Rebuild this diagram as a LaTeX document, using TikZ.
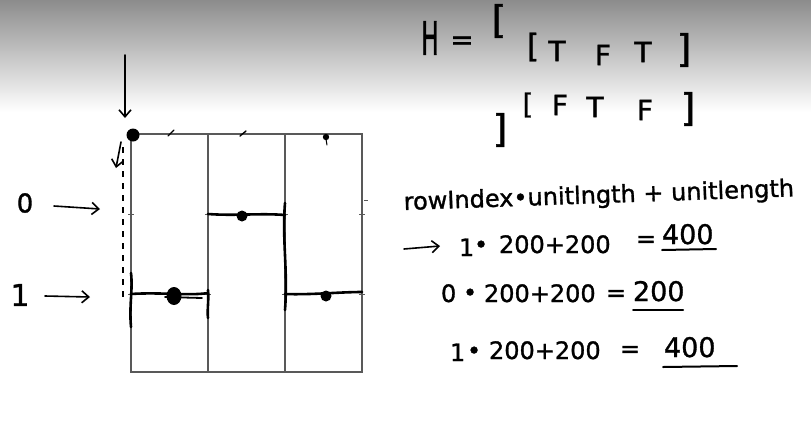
\documentclass[tikz,border=0pt]{standalone}
\usepackage{fontspec}
\setmainfont{DejaVu Sans}[FakeBold=1.2]
\newfontfamily\handfont{DejaVu Sans}[FakeBold=1.2]
\usetikzlibrary{arrows.meta}
\begin{document}
\begin{tikzpicture}[x=1pt,y=-1pt,
  gridline/.style={draw=black!65,line width=1.1pt},
  gridtick/.style={draw=black!65,line width=0.8pt},
  pen/.style={draw=black,line width=2.6pt,line cap=round,line join=round},
  penarrow/.style={draw=black,line width=1.6pt,line cap=round,-{Straight Barb[length=7pt,width=12pt,line width=1.6pt]}},
  hand/.style={inner sep=0pt,outer sep=0pt,anchor=base west,font=\handfont\fontsize{24}{24}\selectfont},
  result/.style={hand,font=\handfont\fontsize{27}{27}\selectfont},
  letter/.style={inner sep=0pt,outer sep=0pt,anchor=center,font=\handfont\fontsize{28}{28}\selectfont},
  bracket/.style={inner sep=0pt,outer sep=0pt,anchor=center,font=\handfont\fontsize{38}{38}\selectfont},
  underl/.style={draw=black,line width=2pt,line cap=round}]
\useasboundingbox (0,0) rectangle (811,429);
\shade[top color=black!45,bottom color=white] (0,0) rectangle (811,112);

% grid
\draw[gridline] (131,134) rectangle (362,372);
\draw[gridline] (208,134) -- (208,372);
\draw[gridline] (285,134) -- (285,372);
\foreach \xx in {131,208,285,362}{
  \draw[gridtick] (\xx-3,214) -- (\xx+3,214);
  \draw[gridtick] (\xx-3,294) -- (\xx+3,294);}
\draw[gridtick] (364,200) -- (368,200);
\draw[pen,line width=1.4pt] (168,136) -- (174,130);
\draw[pen,line width=1.4pt] (240,136) -- (246,131);

% step lines
\draw[pen] (131,294) .. controls (160,292) and (190,296) .. (208,293);
\draw[pen,line width=1.8pt] (165,297) -- (202,298);
\draw[pen] (131,273) .. controls (133,290) and (129,305) .. (131,327);
\draw[pen] (208,290) .. controls (209,300) and (207,310) .. (208,318);
\draw[pen] (208,214) .. controls (235,216) and (260,213) .. (285,215);
\draw[pen] (285,203) .. controls (282,240) and (288,270) .. (285,310);
\draw[pen] (285,294) .. controls (310,295) and (340,292) .. (362,292);

% dots
\fill (133,135) circle (6.5);
\fill (174,296) ellipse (7.5 and 9);
\fill (242,216) circle (5.5);
\fill (326,296) circle (5.5);
\fill (326,137) circle (3.2);
\draw[pen,line width=1pt] (326,139) -- (327,145);

% dashed guide
\draw[black,line width=1.3pt,dash pattern=on 6pt off 6pt] (123,147) -- (123,300);

% arrows at the top left
\coordinate (topS) at (125,55);
\coordinate (topE) at (125,118);
\draw[penarrow] (topS) -- (topE);
\coordinate (smS) at (121,142);
\coordinate (smE) at (116,168);
\draw[penarrow] (smS) -- (smE);

% row labels
\node[inner sep=0pt,font=\handfont\fontsize{26}{26}\selectfont] (l0) at (25,203) {0};
\node[inner sep=0pt,font=\handfont\fontsize{30}{30}\selectfont] (l1) at (20,295) {1};
\coordinate (l0s) at (54,206);
\coordinate (l0e) at (100,209);
\coordinate (l1s) at (45,296);
\coordinate (l1e) at (90,297);
\draw[penarrow] (l0s) -- (l0e);
\draw[penarrow] (l1s) -- (l1e);

% H matrix
\node[inner sep=0pt,anchor=center,xscale=0.5,font=\handfont\fontsize{46}{46}\selectfont] (H) at (430,38) {H};
\node[letter] (eq) at (462,43) {=};
\node[bracket] (ob) at (499,21) {[};
\node[bracket,font=\handfont\fontsize{32}{32}\selectfont] (r1o) at (533,47) {[};
\node[letter] (r1a) at (557,51) {T};
\node[letter] (r1b) at (603,55) {F};
\node[letter] (r1c) at (643,52) {T};
\node[bracket] (r1e) at (684,50) {]};
\node[bracket] (cb) at (500,130) {]};
\node[bracket,font=\handfont\fontsize{28}{28}\selectfont] (r2o) at (528,105) {[};
\node[letter] (r2a) at (560,105) {F};
\node[letter] (r2b) at (595,107) {T};
\node[letter] (r2c) at (645,110) {F};
\node[bracket] (r2e) at (688,109) {]};

% formula
\node[hand,rotate=2] (f1) at (404,210) {rowIndex•unitlngth + unitlength};

\coordinate (f2s) at (404,249);
\coordinate (f2e) at (440,246);
\draw[penarrow] (f2s) -- (f2e);
\node[hand] (f2a) at (459,256) {1};
\node[hand] (f2b) at (474,253) {•};
\node[hand] (f2c) at (499,253) {200+200};
\node[hand] (f2d) at (636,247) {=};
\node[result] (f2e2) at (662,244) {400};
\draw[underl] (662,250) coordinate (u2a) -- (716,249) coordinate (u2b);

\node[hand] (f3a) at (441,302) {0};
\node[hand] (f3b) at (463,301) {•};
\node[hand] (f3c) at (484,302) {200+200};
\node[hand] (f3d) at (606,301) {=};
\node[result] (f3e) at (633,301) {200};
\draw[underl] (633,310) coordinate (u3a) -- (683,310) coordinate (u3b);

\node[hand] (f4a) at (450,361) {1};
\node[hand] (f4b) at (467,359) {•};
\node[hand] (f4c) at (489,359) {200+200};
\node[hand] (f4d) at (620,357) {=};
\node[result] (f4e) at (664,357) {400};
\draw[underl] (663,367) coordinate (u4a) -- (737,366) coordinate (u4b);
\end{tikzpicture}
\end{document}
